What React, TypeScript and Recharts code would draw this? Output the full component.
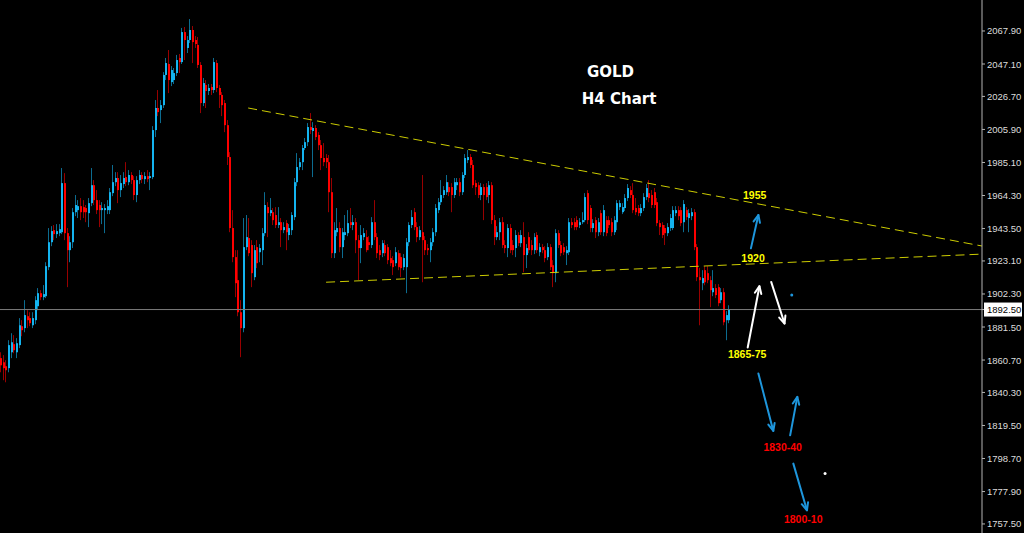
import { ComposedChart, Bar, XAxis, YAxis, ReferenceLine, ReferenceDot } from 'recharts';

// GOLD H4 candles (oldest first)
const opens = [
  1861.9, 1859.3, 1856.8, 1855.6, 1865.6, 1870.7, 1865.6, 1870.1, 1882.0, 1880.8,
  1888.3, 1887.1, 1882.6, 1885.8, 1894.6, 1902.8, 1900.3, 1900.9, 1919.2, 1934.9,
  1942.5, 1940.0, 1940.6, 1941.2, 1972.1, 1940.6, 1929.9, 1934.9, 1953.8, 1955.1,
  1957.6, 1957.0, 1956.4, 1953.2, 1959.5, 1970.8, 1961.4, 1958.3, 1955.1, 1955.1,
  1955.1, 1955.1, 1965.8, 1972.7, 1975.3, 1967.7, 1971.5, 1975.9, 1972.7, 1977.2,
  1974.0, 1964.6, 1974.0, 1977.2, 1974.6, 1976.5, 1975.3, 1975.9, 2005.5, 2019.4,
  2018.1, 2021.2, 2040.2, 2047.1, 2035.7, 2037.0, 2041.4, 2050.9, 2048.3, 2067.2,
  2057.2, 2062.2, 2068.5, 2062.2, 2059.1, 2046.5, 2022.5, 2033.9, 2030.1, 2032.6,
  2030.7, 2047.7, 2032.0, 2027.6, 2022.5, 2008.6, 1988.5, 1943.8, 1925.5, 1911.0,
  1890.8, 1880.8, 1931.8, 1937.5, 1933.1, 1912.9, 1931.8, 1928.6, 1929.9, 1940.6,
  1957.0, 1953.2, 1953.8, 1952.0, 1945.7, 1947.5, 1942.5, 1946.9, 1939.4, 1942.5,
  1950.7, 1972.7, 1982.2, 1985.3, 1994.2, 1997.9, 2007.4, 2004.9, 2006.8, 2002.4,
  1996.0, 1987.9, 1987.9, 1985.3, 1966.4, 1928.0, 1941.2, 1943.8, 1931.8, 1939.4,
  1940.6, 1947.5, 1945.7, 1947.5, 1936.2, 1931.2, 1938.1, 1938.1, 1934.9, 1933.1,
  1947.5, 1938.1, 1929.9, 1928.0, 1933.1, 1931.8, 1924.9, 1923.6, 1921.7, 1928.0,
  1925.5, 1919.2, 1919.2, 1934.9, 1945.7, 1953.8, 1944.4, 1938.1, 1941.2, 1936.2,
  1931.2, 1929.9, 1934.9, 1941.2, 1955.1, 1960.1, 1964.6, 1966.4, 1969.6, 1969.6,
  1964.6, 1970.8, 1972.7, 1966.4, 1977.2, 1986.6, 1988.5, 1983.5, 1972.1, 1970.8,
  1964.6, 1969.6, 1969.6, 1964.6, 1970.8, 1948.8, 1938.1, 1941.2, 1947.5, 1933.1,
  1931.2, 1943.8, 1933.1, 1931.2, 1939.4, 1934.3, 1938.1, 1926.8, 1938.1, 1933.1,
  1929.9, 1939.4, 1928.6, 1931.8, 1929.9, 1925.5, 1931.8, 1920.4, 1915.4, 1940.6,
  1933.1, 1931.8, 1928.0, 1928.6, 1947.5, 1947.5, 1948.8, 1945.7, 1947.5, 1948.8,
  1965.8, 1956.4, 1943.8, 1948.8, 1941.2, 1953.2, 1941.2, 1948.8, 1948.8, 1947.5,
  1941.2, 1947.5, 1957.0, 1953.8, 1956.4, 1962.7, 1967.7, 1964.6, 1956.4, 1956.4,
  1953.2, 1956.4, 1963.3, 1965.8, 1964.6, 1966.4, 1960.1, 1946.9, 1945.7, 1943.8,
  1940.6, 1943.8, 1943.8, 1953.2, 1955.1, 1955.1, 1947.5, 1955.1, 1950.1, 1951.3,
  1953.8, 1931.8, 1912.9, 1909.1, 1917.3, 1915.4, 1911.0, 1903.4, 1906.0, 1906.6,
  1898.4, 1903.4, 1885.8, 1885.8,
];

const highs = [
  1865.6, 1863.8, 1860.6, 1873.2, 1877.6, 1876.4, 1874.5, 1887.1, 1885.8, 1898.4,
  1892.1, 1890.8, 1890.8, 1900.9, 1906.0, 1904.7, 1907.9, 1922.3, 1943.8, 1945.0,
  1945.7, 1946.3, 1946.3, 1981.6, 1978.4, 1943.8, 1938.7, 1956.4, 1964.6, 1961.4,
  1962.7, 1961.4, 1958.3, 1962.7, 1981.6, 1974.0, 1967.7, 1961.4, 1960.1, 1958.9,
  1961.4, 1969.0, 1983.5, 1979.0, 1979.0, 1977.2, 1979.0, 1985.3, 1980.3, 1979.0,
  1976.5, 1976.5, 1980.3, 1979.0, 1979.0, 1980.3, 1979.0, 2008.0, 2024.4, 2030.7,
  2024.4, 2042.0, 2050.9, 2055.9, 2045.8, 2044.6, 2052.8, 2053.4, 2069.8, 2070.4,
  2064.7, 2075.4, 2071.0, 2064.7, 2064.1, 2048.3, 2038.3, 2037.0, 2034.5, 2034.5,
  2050.9, 2049.6, 2033.8, 2029.4, 2024.4, 2011.8, 1991.6, 1955.1, 1929.9, 1929.9,
  1898.4, 1950.1, 1952.0, 1950.1, 1936.2, 1933.1, 1936.2, 1933.7, 1943.8, 1966.4,
  1960.1, 1962.7, 1956.4, 1957.0, 1957.0, 1950.1, 1947.5, 1948.8, 1946.3, 1953.8,
  1975.3, 1991.0, 1987.9, 1996.1, 2000.5, 2009.9, 2016.2, 2010.5, 2008.6, 2004.2,
  1999.2, 1997.3, 1990.4, 1989.8, 1975.3, 1947.5, 1956.4, 1947.5, 1943.8, 1952.0,
  1955.1, 1956.4, 1952.0, 1950.1, 1939.4, 1945.7, 1943.8, 1942.5, 1938.7, 1950.7,
  1961.4, 1940.6, 1933.1, 1936.2, 1936.2, 1933.7, 1929.9, 1926.1, 1931.8, 1929.9,
  1928.0, 1927.4, 1937.5, 1947.5, 1955.1, 1956.4, 1947.5, 1945.0, 1977.2, 1938.7,
  1933.7, 1937.5, 1943.8, 1958.9, 1962.7, 1974.0, 1970.2, 1977.2, 1972.7, 1972.1,
  1975.3, 1975.3, 1975.3, 1979.0, 1990.4, 1992.9, 1990.4, 1986.6, 1974.0, 1972.7,
  1972.1, 1971.5, 1972.1, 1973.4, 1972.7, 1952.0, 1945.0, 1950.1, 1950.7, 1936.2,
  1946.3, 1946.3, 1936.2, 1942.5, 1941.2, 1942.5, 1947.5, 1933.7, 1941.2, 1936.2,
  1940.6, 1941.2, 1934.3, 1933.7, 1932.4, 1934.3, 1933.7, 1923.6, 1943.1, 1942.5,
  1935.6, 1934.3, 1932.4, 1950.1, 1950.1, 1950.1, 1951.3, 1950.1, 1953.8, 1965.8,
  1967.7, 1958.3, 1949.4, 1950.7, 1950.1, 1955.1, 1958.3, 1951.3, 1951.3, 1950.1,
  1951.3, 1961.4, 1961.4, 1959.5, 1965.2, 1971.5, 1970.2, 1972.1, 1962.7, 1958.3,
  1958.9, 1965.8, 1971.5, 1974.0, 1967.7, 1969.0, 1962.7, 1948.8, 1947.5, 1945.7,
  1946.9, 1952.6, 1957.6, 1957.6, 1957.6, 1957.0, 1961.4, 1957.0, 1955.7, 1956.4,
  1955.7, 1933.7, 1918.6, 1917.3, 1919.8, 1919.8, 1913.5, 1917.3, 1908.5, 1908.5,
  1906.0, 1906.0, 1891.5, 1895.2,
];

const lows = [
  1853.0, 1848.0, 1846.7, 1853.0, 1861.9, 1865.0, 1861.9, 1868.2, 1875.7, 1878.2,
  1880.8, 1882.0, 1880.8, 1883.3, 1892.1, 1898.4, 1898.4, 1899.7, 1917.3, 1932.4,
  1936.2, 1937.5, 1938.7, 1940.0, 1936.2, 1906.6, 1922.3, 1931.2, 1951.3, 1950.1,
  1948.8, 1950.1, 1947.5, 1944.4, 1957.6, 1958.3, 1952.6, 1944.4, 1946.3, 1940.6,
  1952.6, 1952.6, 1963.9, 1970.2, 1959.5, 1963.3, 1969.0, 1970.2, 1970.8, 1971.5,
  1961.4, 1960.1, 1971.5, 1972.1, 1971.5, 1972.7, 1967.7, 1974.6, 2001.1, 2014.3,
  2009.9, 2019.4, 2037.0, 2028.8, 2033.2, 2034.5, 2039.5, 2041.4, 2047.1, 2049.6,
  2054.0, 2060.3, 2047.7, 2057.2, 2044.6, 2016.2, 2020.6, 2019.4, 2027.6, 2027.6,
  2028.8, 2029.4, 2019.4, 2014.3, 2004.2, 1983.5, 1941.2, 1922.3, 1900.3, 1888.3,
  1862.5, 1878.2, 1929.9, 1926.1, 1906.6, 1911.0, 1918.6, 1922.3, 1920.5, 1938.7,
  1938.1, 1951.3, 1945.7, 1943.8, 1943.8, 1931.8, 1940.6, 1929.9, 1936.2, 1939.4,
  1948.8, 1970.2, 1980.3, 1980.3, 1992.9, 1995.4, 2003.0, 1975.9, 1999.2, 1992.9,
  1980.3, 1982.8, 1981.6, 1953.8, 1924.9, 1924.9, 1938.7, 1928.6, 1924.9, 1936.2,
  1938.7, 1943.8, 1942.5, 1928.0, 1911.0, 1921.7, 1936.2, 1928.6, 1929.9, 1931.2,
  1936.2, 1924.9, 1923.6, 1925.5, 1926.1, 1921.1, 1919.8, 1914.2, 1919.8, 1917.3,
  1912.9, 1917.3, 1902.8, 1932.4, 1943.8, 1942.5, 1934.9, 1936.2, 1909.7, 1926.8,
  1926.8, 1922.3, 1932.4, 1938.7, 1953.2, 1958.3, 1962.7, 1964.6, 1963.9, 1953.8,
  1962.7, 1967.7, 1963.9, 1964.6, 1975.3, 1984.7, 1981.6, 1969.0, 1964.6, 1962.7,
  1961.4, 1948.8, 1961.4, 1959.5, 1946.3, 1933.1, 1936.2, 1936.2, 1931.2, 1928.0,
  1925.5, 1928.0, 1926.8, 1925.5, 1932.4, 1931.8, 1916.0, 1918.6, 1928.0, 1926.8,
  1927.4, 1928.0, 1926.1, 1928.0, 1922.3, 1923.6, 1917.3, 1906.6, 1909.7, 1931.2,
  1926.1, 1926.8, 1920.5, 1926.8, 1943.8, 1942.5, 1942.5, 1943.8, 1946.3, 1947.5,
  1946.3, 1941.2, 1941.2, 1937.5, 1938.7, 1939.4, 1938.7, 1938.7, 1943.8, 1938.7,
  1939.4, 1942.5, 1955.1, 1952.6, 1954.5, 1960.8, 1962.7, 1953.2, 1952.0, 1951.3,
  1951.3, 1954.5, 1961.4, 1960.1, 1956.4, 1956.4, 1945.0, 1939.4, 1937.5, 1933.1,
  1938.7, 1941.9, 1942.5, 1951.3, 1948.8, 1945.0, 1941.2, 1948.8, 1941.2, 1948.8,
  1929.9, 1910.4, 1882.6, 1904.7, 1907.8, 1909.1, 1894.0, 1900.9, 1899.7, 1894.6,
  1896.5, 1882.6, 1873.2, 1883.9,
];

const closes = [
  1857.4, 1855.6, 1854.3, 1870.1, 1871.9, 1866.9, 1871.3, 1882.6, 1879.5, 1889.0,
  1885.8, 1883.9, 1887.1, 1898.4, 1902.8, 1900.3, 1902.2, 1919.8, 1934.9, 1941.9,
  1940.0, 1941.9, 1943.1, 1972.1, 1940.6, 1929.9, 1934.9, 1953.8, 1958.3, 1957.6,
  1953.8, 1953.8, 1953.8, 1959.5, 1970.8, 1961.4, 1955.1, 1955.1, 1956.4, 1956.4,
  1957.6, 1966.4, 1972.7, 1975.3, 1967.7, 1972.1, 1975.3, 1972.7, 1977.2, 1974.0,
  1964.6, 1974.0, 1977.2, 1974.6, 1976.5, 1974.6, 1976.5, 2005.5, 2019.4, 2016.8,
  2021.2, 2040.2, 2047.7, 2037.0, 2043.3, 2041.4, 2049.6, 2048.3, 2067.2, 2062.2,
  2062.2, 2068.5, 2060.9, 2059.7, 2046.5, 2022.5, 2035.1, 2030.1, 2032.0, 2030.7,
  2048.3, 2032.0, 2027.6, 2021.2, 2008.6, 1988.5, 1943.8, 1925.5, 1909.1, 1890.8,
  1880.8, 1931.8, 1938.1, 1928.0, 1915.4, 1929.9, 1921.7, 1931.2, 1940.6, 1958.3,
  1953.2, 1955.1, 1948.8, 1945.7, 1947.5, 1942.5, 1944.4, 1941.2, 1943.8, 1952.0,
  1972.7, 1982.2, 1985.3, 1994.2, 1997.9, 2007.4, 2005.5, 2006.8, 2001.1, 1996.0,
  1987.9, 1985.3, 1985.3, 1966.4, 1928.0, 1942.5, 1943.8, 1931.8, 1941.2, 1941.2,
  1946.9, 1945.7, 1947.5, 1936.2, 1931.2, 1939.4, 1940.6, 1929.9, 1933.1, 1947.5,
  1938.1, 1928.0, 1926.8, 1934.3, 1928.0, 1923.6, 1921.7, 1919.2, 1928.6, 1919.2,
  1918.6, 1924.9, 1934.9, 1945.7, 1950.7, 1944.4, 1938.1, 1942.5, 1936.2, 1929.9,
  1929.9, 1934.9, 1941.2, 1956.4, 1960.1, 1964.6, 1967.7, 1972.7, 1966.4, 1964.6,
  1972.7, 1972.7, 1966.4, 1977.2, 1987.9, 1988.5, 1983.5, 1970.8, 1969.6, 1964.6,
  1969.6, 1964.6, 1963.3, 1970.8, 1948.8, 1938.1, 1941.2, 1947.5, 1933.1, 1931.2,
  1943.8, 1929.9, 1929.9, 1939.4, 1934.3, 1939.4, 1926.8, 1931.2, 1929.9, 1929.9,
  1938.1, 1929.9, 1931.8, 1929.9, 1924.9, 1931.8, 1919.2, 1915.4, 1940.6, 1933.1,
  1928.0, 1928.6, 1929.9, 1947.5, 1945.7, 1944.4, 1944.4, 1947.5, 1948.8, 1963.3,
  1948.8, 1943.8, 1946.9, 1941.2, 1947.5, 1941.2, 1955.1, 1940.6, 1945.7, 1941.2,
  1948.8, 1959.5, 1959.5, 1957.0, 1962.7, 1969.0, 1964.6, 1955.1, 1953.8, 1953.2,
  1956.4, 1963.3, 1969.0, 1962.7, 1958.3, 1958.3, 1946.9, 1944.4, 1939.4, 1940.6,
  1944.4, 1950.1, 1955.1, 1955.1, 1951.3, 1946.9, 1958.9, 1950.7, 1953.2, 1953.8,
  1931.8, 1912.9, 1911.0, 1912.3, 1909.7, 1911.0, 1904.7, 1906.0, 1901.6, 1896.5,
  1903.4, 1884.5, 1889.0, 1892.5,
];

const priceTicks = [
  2067.9, 2047.1, 2026.7, 2005.9, 1985.1, 1964.3, 1943.5, 1923.1,
  1902.3, 1881.5, 1860.7, 1840.3, 1819.5, 1798.7, 1777.9, 1757.5,
];
const lastPrice = 1892.5;

// drawn trendlines (bar index, price)
const trendLines = [
  { x1: 93.0, y1: 2019.4, x2: 368, y2: 1932.5 },
  { x1: 122.2, y1: 1909.7, x2: 368, y2: 1927.4 },
];

const BULL = '#14b4f0';
const BEAR = '#ff0000';
const ARROW_BLUE = '#1e96dc';

const arrows = [
  { x1: 281.4, y1: 1931.0, x2: 284.2, y2: 1952.0, color: ARROW_BLUE },
  { x1: 280.2, y1: 1868.6, x2: 284.6, y2: 1907.2, color: '#ffffff' },
  { x1: 289.0, y1: 1909.9, x2: 294.0, y2: 1883.7, color: '#ffffff' },
  { x1: 284.2, y1: 1852.2, x2: 289.8, y2: 1816.1, color: ARROW_BLUE },
  { x1: 296.1, y1: 1813.3, x2: 298.8, y2: 1837.5, color: ARROW_BLUE },
  { x1: 297.3, y1: 1795.5, x2: 302.4, y2: 1766.1, color: ARROW_BLUE },
];

const levelLabels = [
  { x: 282.8, y: 1964.9, text: '1955', color: '#ffff00' },
  { x: 282.2, y: 1925.2, text: '1920', color: '#ffff00' },
  { x: 280.0, y: 1864.4, text: '1865-75', color: '#ffff00' },
  { x: 293.3, y: 1806.1, text: '1830-40', color: '#ff0000' },
  { x: 301.0, y: 1760.4, text: '1800-10', color: '#ff0000' },
];

const titleLines = [
  { x: 228.8, y: 2042.0, text: 'GOLD' },
  { x: 232.0, y: 2025.0, text: 'H4 Chart' },
];

const marks = [
  { x: 296.7, y: 1901.7, color: ARROW_BLUE },
  { x: 309.2, y: 1789.2, color: '#ffffff' },
];

const candles = closes.map((close, i) => ({
  x: i + 0.5,
  open: opens[i],
  high: highs[i],
  low: lows[i],
  close,
}));

function Candle(props: any) {
  const { x, y, width, height, payload } = props;
  if (!payload || height == null || isNaN(y)) return null;
  const top = height >= 0 ? y : y + height;
  const h = Math.abs(height);
  const { open, close, high, low } = payload;
  const k = h / (high - low || 1);
  const yo = top + (high - open) * k;
  const yc = top + (high - close) * k;
  const color = close >= open ? BULL : BEAR;
  const cx = Math.round(x + width / 2);
  return (
    <g>
      <line x1={cx - 0.5} x2={cx - 0.5} y1={top} y2={top + h} stroke={color} strokeOpacity={0.6} strokeWidth={1} />
      <rect x={cx - 1} y={Math.min(yo, yc)} width={2} height={Math.max(1, Math.abs(yc - yo))} fill={color} />
    </g>
  );
}

function PriceTick(props: any) {
  const { x, y, payload } = props;
  const label = Number(payload.value).toFixed(2);
  if (payload.value === lastPrice) {
    return (
      <g>
        <rect x={x - 3} y={y - 7} width={38} height={14} fill="#ffffff" />
        <text x={x} y={y} dy={3.5} fill="#000000" fontSize={9.5} fontFamily="Liberation Sans">{label}</text>
      </g>
    );
  }
  return (
    <text x={x} y={y} dy={3.5} fill="#dcdcdc" fontSize={9.5} fontFamily="Liberation Sans">{label}</text>
  );
}

function Arrow(props: any) {
  const { x1, y1, x2, y2, color } = props;
  const a = Math.atan2(y2 - y1, x2 - x1);
  const len = 8;
  const spread = 0.42;
  const p1 = `${x2 - len * Math.cos(a - spread)},${y2 - len * Math.sin(a - spread)}`;
  const p2 = `${x2 - len * Math.cos(a + spread)},${y2 - len * Math.sin(a + spread)}`;
  return (
    <g stroke={color} strokeWidth={2} fill="none" strokeLinecap="round" strokeLinejoin="round">
      <line x1={x1} y1={y1} x2={x2} y2={y2} />
      <polyline points={`${p1} ${x2},${y2} ${p2}`} />
    </g>
  );
}

export default function App() {
  return (
    <div style={{ position: 'absolute', left: 0, top: 0, width: 1024, height: 533, background: '#000' }}>
      <ComposedChart width={1024} height={533} data={candles} margin={{ top: 0, right: 0, bottom: 0, left: 0 }}>
        <XAxis type="number" dataKey="x" domain={[0, 368]} allowDataOverflow hide />
        <YAxis
          orientation="right"
          domain={[1751.8, 2087.4]}
          allowDataOverflow
          ticks={[...priceTicks, lastPrice]}
          interval={0}
          width={42}
          axisLine={{ stroke: '#b4b4b4' }}
          tickLine={{ stroke: '#b4b4b4' }}
          tickSize={3}
          tickMargin={2}
          tick={<PriceTick />}
        />
        <ReferenceLine y={lastPrice} stroke="#7a7a7a" ifOverflow="visible" />
        {trendLines.map((t, i) => (
          <ReferenceLine
            key={'t' + i}
            segment={[{ x: t.x1, y: t.y1 }, { x: t.x2, y: t.y2 }]}
            stroke="#cccc00"
            strokeDasharray="9 5"
            ifOverflow="visible"
          />
        ))}
        <Bar
          dataKey={(d: any) => [d.low, d.high]}
          barSize={2}
          shape={<Candle />}
          isAnimationActive={false}
        />
        {arrows.map((a, i) => (
          <ReferenceLine
            key={'a' + i}
            segment={[{ x: a.x1, y: a.y1 }, { x: a.x2, y: a.y2 }]}
            ifOverflow="visible"
            shape={(p: any) => <Arrow {...p} color={a.color} />}
          />
        ))}
        {marks.map((m, i) => (
          <ReferenceDot key={'m' + i} x={m.x} y={m.y} r={1.5} fill={m.color} stroke="none" ifOverflow="visible" />
        ))}
        {titleLines.map((t, i) => (
          <ReferenceDot
            key={'h' + i}
            x={t.x}
            y={t.y}
            r={0}
            ifOverflow="visible"
            shape={(p: any) => (
              <text x={p.cx} y={p.cy} textAnchor="middle" dominantBaseline="central" fill="#ffffff" fontSize={15} fontWeight="bold" fontFamily="DejaVu Sans">
                {t.text}
              </text>
            )}
          />
        ))}
        {levelLabels.map((l, i) => (
          <ReferenceDot
            key={'l' + i}
            x={l.x}
            y={l.y}
            r={0}
            ifOverflow="visible"
            shape={(p: any) => (
              <text x={p.cx} y={p.cy} textAnchor="middle" dominantBaseline="central" fill={l.color} fontSize={10.5} fontWeight="bold" fontFamily="Liberation Sans">
                {l.text}
              </text>
            )}
          />
        ))}
      </ComposedChart>
    </div>
  );
}
